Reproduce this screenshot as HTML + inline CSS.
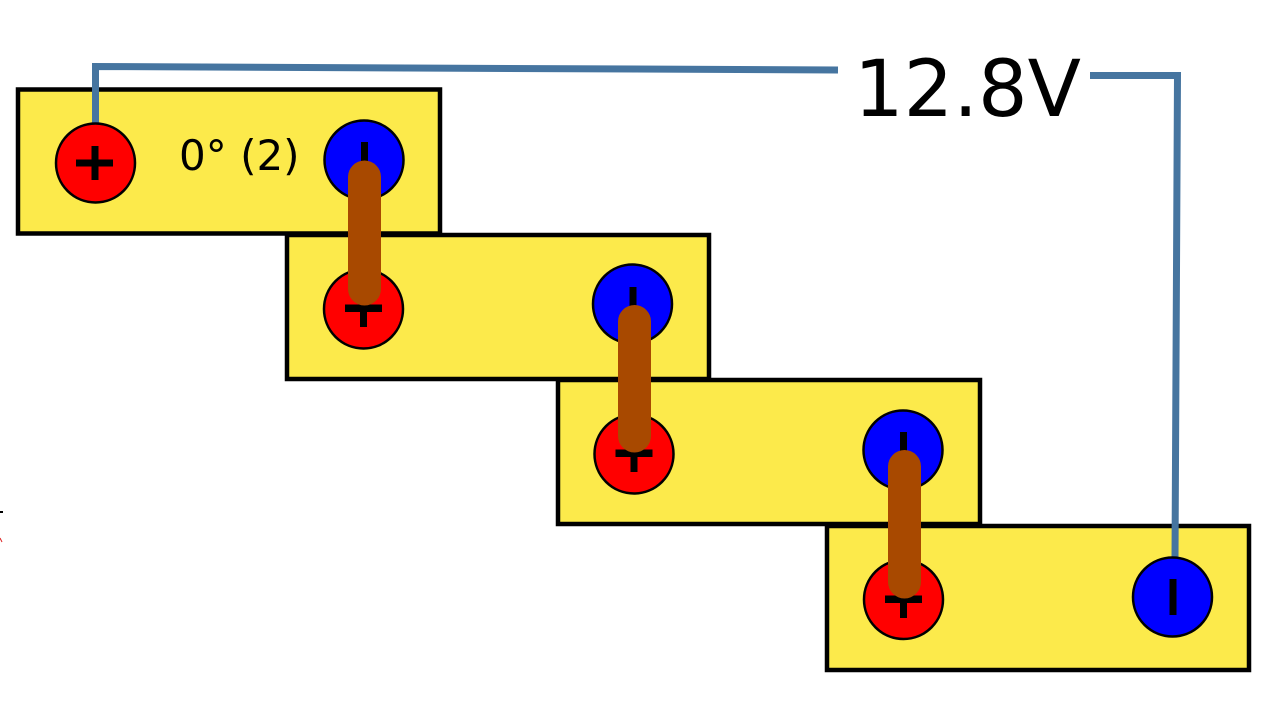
<!DOCTYPE html>
<html><head><meta charset="utf-8"><style>
html,body{margin:0;padding:0;background:#fff;}
svg{display:block;}
</style></head><body>
<svg width="1279" height="704" viewBox="0 0 1279 704" xmlns="http://www.w3.org/2000/svg">
<rect width="1279" height="704" fill="#fff"/>
<g fill="#fcea4b" stroke="#000" stroke-width="4.5">
<rect x="18" y="89.5" width="422" height="144"/>
<rect x="287" y="235" width="422" height="144"/>
<rect x="558" y="380" width="422" height="144"/>
<rect x="827" y="526" width="422" height="144"/>
</g>
<g fill="none" stroke="#4675a0" stroke-width="7">
<polyline points="95.5,124 95.5,66.5 838,70"/>
<polyline points="1090,75.5 1177.5,75.5 1175,558"/>
</g>
<text x="854" y="116" font-family="DejaVu Sans, sans-serif" font-size="78" fill="#000">12.8V</text>
<text x="179" y="170" font-family="DejaVu Sans, sans-serif" font-size="42" fill="#000">0° (2)</text>
<g stroke="#000" stroke-width="2.5">
<circle cx="95.5" cy="163" r="39.5" fill="#f00"/>
<circle cx="364" cy="160" r="39.5" fill="#00f"/>
<circle cx="363.5" cy="309" r="39.5" fill="#f00"/>
<circle cx="632.5" cy="304" r="39.5" fill="#00f"/>
<circle cx="634" cy="454" r="39.5" fill="#f00"/>
<circle cx="903" cy="450" r="39.5" fill="#00f"/>
<circle cx="903.5" cy="599.5" r="39.5" fill="#f00"/>
<circle cx="1172.5" cy="597" r="39.5" fill="#00f"/>
</g>
<g fill="#000">
<rect x="76" y="159.5" width="37" height="7"/><rect x="91.5" y="146" width="7" height="34"/>
<rect x="345" y="304.5" width="37" height="7.5"/><rect x="360" y="291" width="7" height="36"/>
<rect x="615.5" y="449.5" width="37" height="7.5"/><rect x="630.5" y="436" width="7" height="36"/>
<rect x="885" y="595.5" width="37" height="7.5"/><rect x="900" y="582" width="7" height="36"/>
<rect x="361" y="142" width="7" height="36"/>
<rect x="629.5" y="287" width="7" height="36"/>
<rect x="900" y="432" width="7" height="36"/>
<rect x="1169.5" y="579" width="7" height="36"/>
</g>
<g stroke="#a84900" stroke-width="33" stroke-linecap="round">
<line x1="364.5" y1="177" x2="364.5" y2="289"/>
<line x1="634.5" y1="321.5" x2="634.5" y2="436"/>
<line x1="904.5" y1="466.5" x2="904.5" y2="582"/>
</g>
<line x1="0" y1="512" x2="3" y2="512" stroke="#000" stroke-width="2"/>
<line x1="0" y1="538" x2="2" y2="542" stroke="#d22" stroke-width="1"/>
</svg>
</body></html>
